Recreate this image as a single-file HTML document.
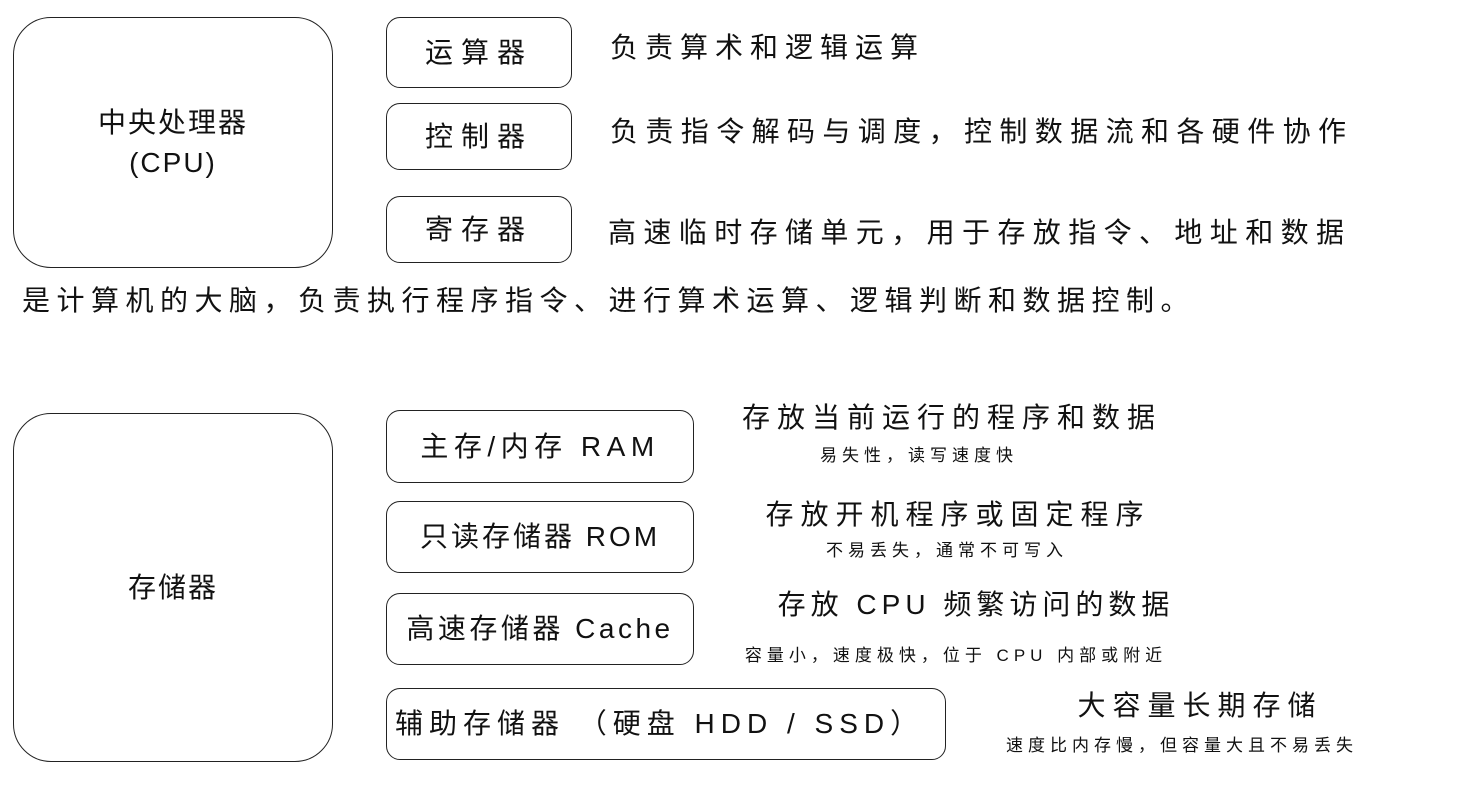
<!DOCTYPE html>
<html><head><meta charset="utf-8"><style>
body{margin:0;width:1464px;height:801px;background:#fff;position:relative;overflow:hidden;font-family:"Liberation Sans","Noto Sans CJK SC",sans-serif;color:#111}
.b{position:absolute;border:1.5px solid #222;box-sizing:border-box;display:flex;align-items:center;justify-content:center;font-size:28px;text-align:center;line-height:1.4}
.big{border-radius:38px}
.sm{border-radius:14px}
.t{position:absolute;white-space:nowrap;font-size:28px;line-height:1;letter-spacing:7px}
.c{transform:translateX(-50%)}
.s{font-size:17px;letter-spacing:5px}
</style></head><body>
<div class="b big" style="left:13px;top:17px;width:320px;height:251px;letter-spacing:2px">中央处理器<br>(CPU)</div>
<div class="b sm" style="left:386px;top:17px;width:186px;height:71px;letter-spacing:8px">运算器</div>
<div class="b sm" style="left:386px;top:103px;width:186px;height:67px;letter-spacing:8px">控制器</div>
<div class="b sm" style="left:386px;top:196px;width:186px;height:67px;letter-spacing:8px">寄存器</div>
<div class="t" style="left:610px;top:34px">负责算术和逻辑运算</div>
<div class="t" style="left:610px;top:118px;letter-spacing:7.4px">负责指令解码与调度，控制数据流和各硬件协作</div>
<div class="t" style="left:608px;top:219px;letter-spacing:7.4px">高速临时存储单元，用于存放指令、地址和数据</div>
<div class="t" style="left:22px;top:287px;letter-spacing:6.5px">是计算机的大脑，负责执行程序指令、进行算术运算、逻辑判断和数据控制。</div>

<div class="b big" style="left:13px;top:413px;width:320px;height:349px;letter-spacing:2px">存储器</div>
<div class="b sm" style="left:386px;top:410px;width:308px;height:73px;letter-spacing:5.5px">主存/内存 RAM</div>
<div class="b sm" style="left:386px;top:501px;width:308px;height:72px;letter-spacing:3px">只读存储器 ROM</div>
<div class="b sm" style="left:386px;top:593px;width:308px;height:72px;letter-spacing:3.5px">高速存储器 Cache</div>
<div class="b sm" style="left:386px;top:688px;width:560px;height:72px;justify-content:flex-start;padding-left:8px;letter-spacing:6px">辅助存储器 （硬盘 HDD / SSD）</div>

<div class="t c" style="left:952px;top:404px">存放当前运行的程序和数据</div>
<div class="t c s" style="left:919px;top:447px">易失性，读写速度快</div>
<div class="t c" style="left:958px;top:501px">存放开机程序或固定程序</div>
<div class="t c s" style="left:947px;top:542px">不易丢失，通常不可写入</div>
<div class="t c" style="left:976px;top:591px;letter-spacing:5px">存放 CPU 频繁访问的数据</div>
<div class="t c s" style="left:956px;top:647px;letter-spacing:5px">容量小，速度极快，位于 CPU 内部或附近</div>
<div class="t c" style="left:1200px;top:692px">大容量长期存储</div>
<div class="t c s" style="left:1182px;top:737px">速度比内存慢，但容量大且不易丢失</div>
</body></html>
